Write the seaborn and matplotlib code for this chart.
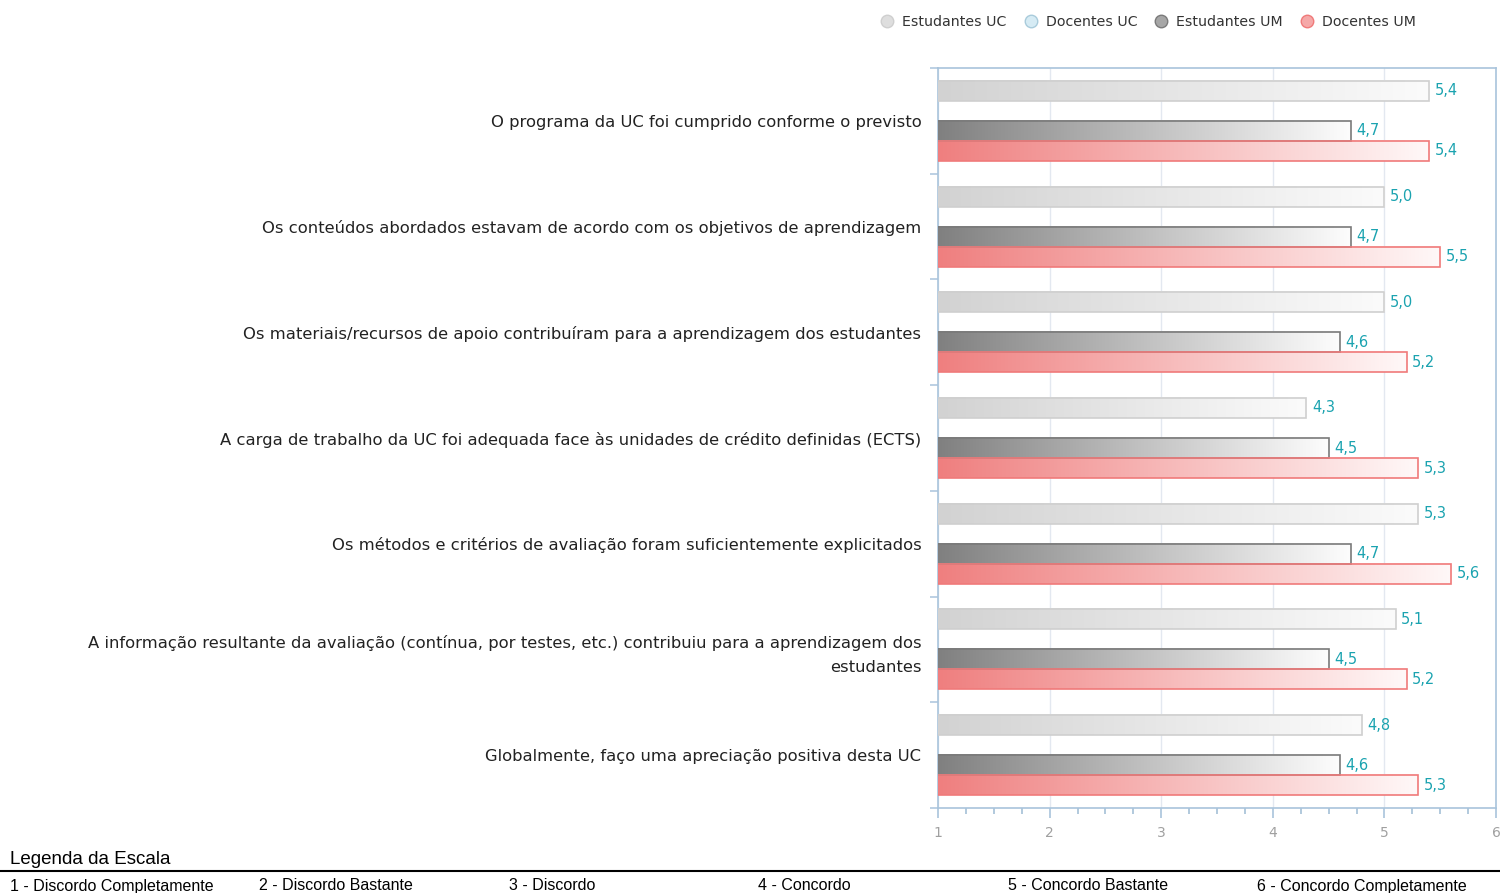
import numpy as np
import pandas as pd
import matplotlib.pyplot as plt
import seaborn as sns
from matplotlib.colors import LinearSegmentedColormap
from matplotlib.lines import Line2D

perguntas = [
    "O programa da UC foi cumprido conforme o previsto",
    "Os conteúdos abordados estavam de acordo com os objetivos de aprendizagem",
    "Os materiais/recursos de apoio contribuíram para a aprendizagem dos estudantes",
    "A carga de trabalho da UC foi adequada face às unidades de crédito definidas (ECTS)",
    "Os métodos e critérios de avaliação foram suficientemente explicitados",
    "A informação resultante da avaliação (contínua, por testes, etc.) contribuiu para a aprendizagem dos\nestudantes",
    "Globalmente, faço uma apreciação positiva desta UC",
]
grupos = ["Estudantes UC", "Docentes UC", "Estudantes UM", "Docentes UM"]
estudantes_uc = [5.4, 5.0, 5.0, 4.3, 5.3, 5.1, 4.8]
docentes_uc = [np.nan] * 7
estudantes_um = [4.7, 4.7, 4.6, 4.5, 4.7, 4.5, 4.6]
docentes_um = [5.4, 5.5, 5.2, 5.3, 5.6, 5.2, 5.3]
escala = ["1 - Discordo Completamente", "2 - Discordo Bastante", "3 - Discordo",
          "4 - Concordo", "5 - Concordo Bastante", "6 - Concordo Completamente"]

series = dict(zip(grupos, [estudantes_uc, docentes_uc, estudantes_um, docentes_um]))
rows = []
for g, vals in series.items():
    for p, v in zip(perguntas, vals):
        rows.append({"pergunta": p, "grupo": g, "valor": v})
df = pd.DataFrame(rows)

# gradient (left colour, right colour, edge colour) per group
estilo = {
    "Estudantes UC": ("#d2d2d2", "#fbfbfb", "#cfcfcf"),
    "Docentes UC": ("#cfe6f0", "#f8fcfe", "#a9cbdb"),
    "Estudantes UM": ("#808080", "#fdfdfd", "#7a7a7a"),
    "Docentes UM": ("#ef7f7f", "#fff8f8", "#f07a7a"),
}
largura = 0.757

sns.set_style("white")
plt.rcParams["font.family"] = ["DejaVu Sans"]

fig = plt.figure(figsize=(15, 8.93), dpi=100)
ax = fig.add_axes([938 / 1500, 1 - 808 / 893, 558 / 1500, 740 / 893])

sns.barplot(data=df, y="pergunta", x="valor", hue="grupo", hue_order=grupos,
            order=perguntas, orient="h", width=largura,
            palette=[v[0] for v in estilo.values()], legend=False, ax=ax, zorder=3)

ax.set_xlim(1, 6)
ax.set_ylim(6.5, -0.5)

slot = largura / len(grupos)
for bar in list(ax.patches):
    w = bar.get_width()
    if not np.isfinite(w) or w == 0:
        continue
    y0, h = bar.get_y(), bar.get_height()
    yc = y0 + h / 2
    k = int(round((yc - round(yc)) / slot + (len(grupos) - 1) / 2))
    c0, c1, ec = estilo[grupos[k]]
    cmap = LinearSegmentedColormap.from_list(grupos[k], [c0, c1])
    x_end = bar.get_x() + w
    bar.set_facecolor("none")
    bar.set_edgecolor(ec)
    bar.set_linewidth(1.2)
    bar.set_zorder(4)
    ax.imshow(np.linspace(0, 1, 256).reshape(1, -1), cmap=cmap, aspect="auto",
              extent=[1, x_end, y0 + h, y0], zorder=3, interpolation="bicubic")
    ax.text(x_end + 0.05, yc, f"{w:.1f}".replace(".", ","),
            va="center", ha="left", color="#1ba3b0", fontsize=10.5, zorder=5)

ax.set_xlim(1, 6)
ax.set_ylim(6.5, -0.5)

# axes styling
for s in ax.spines.values():
    s.set_color("#a9c4dc")
    s.set_linewidth(1.2)
ax.set_xticks([1, 2, 3, 4, 5, 6])
ax.set_xticks(np.arange(1, 6.01, 0.25), minor=True)
ax.tick_params(axis="x", which="major", length=7, width=1.2, color="#a9c4dc",
               labelcolor="#a0a0a0", labelsize=10, pad=6, bottom=True)
ax.tick_params(axis="x", which="minor", length=4, width=1.1, color="#9dbad3", bottom=True)
ax.xaxis.grid(True, which="major", color="#e3e8f0", linewidth=1, zorder=0)
ax.set_axisbelow(True)

ax.set_yticks(np.arange(-0.5, 7, 1), minor=True)
ax.tick_params(axis="y", which="minor", length=6, width=1.1, color="#a9c4dc", left=True)
ax.tick_params(axis="y", which="major", length=0, labelsize=11.8, labelcolor="#222222", pad=12)
for lbl in ax.get_yticklabels():
    lbl.set_linespacing(1.7)
ax.set_xlabel("")
ax.set_ylabel("")

# legend
faces = ["#dedede", "#d6ebf4", "#a6a6a6", "#f5a8a8"]
handles = [Line2D([], [], marker="o", linestyle="", markersize=9,
                  markerfacecolor=f, markeredgecolor=estilo[g][2], label=g)
           for g, f in zip(grupos, faces)]
fig.legend(handles=handles, loc="center", bbox_to_anchor=(0.763, 0.975), ncol=4,
           frameon=False, fontsize=10.2, handletextpad=0.05, columnspacing=0.7,
           labelcolor="#333333")

# scale legend at the bottom
fig.text(10 / 1500, 1 - 859 / 893, "Legenda da Escala", fontsize=13.5, va="center",
         family="Liberation Sans", color="black")
fig.add_artist(Line2D([0, 1], [1 - 871 / 893] * 2, color="black", linewidth=1.5))
for i, t in enumerate(escala):
    fig.text((10 + i * 249.4) / 1500, 1 - 886 / 893, t, fontsize=11.5, va="center",
             family="Liberation Sans", color="black")

fig.savefig("out.png", dpi=100)
